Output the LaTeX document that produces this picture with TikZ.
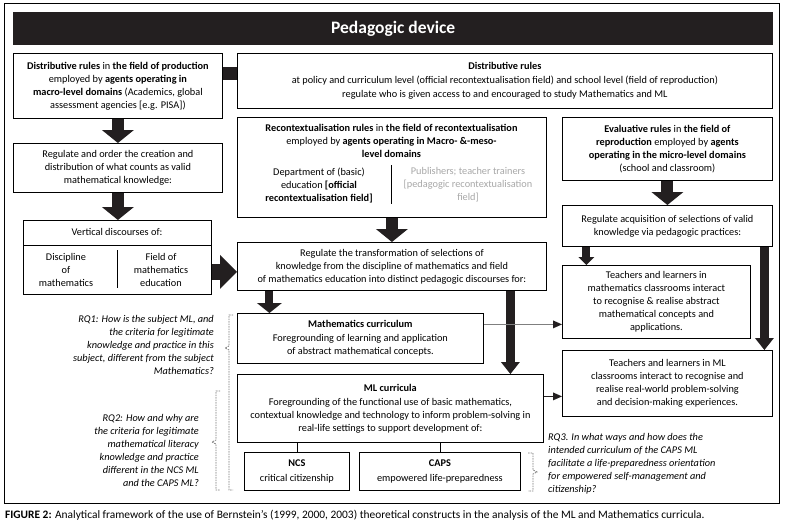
\documentclass[tikz,border=0pt]{standalone}
\usepackage{fontspec}
\setmainfont{Carlito}
\usetikzlibrary{arrows.meta}
\definecolor{ink}{HTML}{231F20}
\definecolor{paletext}{HTML}{A8A8A8}
\definecolor{bracegray}{HTML}{7A7A7A}
\definecolor{linegray}{HTML}{7F7F7F}
\begin{document}
\begin{tikzpicture}[x=1pt,y=-1pt,
  box/.style={draw=black, line width=0.8pt, fill=white, inner sep=0pt, anchor=north west, align=center, font=\fontsize{10.3}{13}\selectfont},
  plain/.style={inner sep=0pt, align=center, font=\fontsize{10.3}{13}\selectfont},
  rq/.style={inner sep=0pt, font=\fontsize{10.3}{13}\selectfont\itshape},
  bigarrow/.style={draw=ink, line width=12pt, -{Triangle[width=32pt,length=13pt,line width=0pt]}},
  rightarrow/.style={draw=ink, line width=16pt, -{Triangle[width=34pt,length=17pt,line width=0pt]}},
  medarrow/.style={draw=ink, line width=8pt, -{Triangle[width=25pt,length=10pt,line width=0pt]}},
  smallarrow/.style={draw=ink, line width=8pt, -{Triangle[width=16pt,length=8pt,line width=0pt]}},
  longarrow/.style={draw=ink, line width=9pt, -{Triangle[width=19pt,length=12pt,line width=0pt]}},
  barlink/.style={draw=ink, line width=13pt},
  thinarrow/.style={draw=linegray, line width=0.9pt, -{Triangle[width=8pt,length=9pt,line width=0pt,fill=ink]}},
  thinlink/.style={draw=black, line width=0.8pt},
  bracepath/.style={draw=bracegray, line width=0.7pt, dash pattern=on 1.5pt off 1pt}
]
\useasboundingbox (0,0) rectangle (789,525);
\fill[white] (0,0) rectangle (789,525);
\draw[line width=1pt] (4,3) rectangle (779,503);

% title
\node[fill=ink, inner sep=0pt, anchor=north west, minimum width=760pt, minimum height=33pt,
      text=white, font=\fontsize{17.5}{19}\selectfont\bfseries] (title) at (13,12) {Pedagogic device};

% boxes
\node[box, minimum width=209pt, minimum height=65pt] (A) at (13,53)
 {\textbf{Distributive rules} in \textbf{the field of production}\\
  employed by \textbf{agents operating in}\\
  \textbf{macro-level domains} (Academics, global\\
  assessment agencies {[}e.g. PISA{]})};

\node[box, minimum width=535pt, minimum height=55pt, font=\fontsize{10.3}{14}\selectfont] (B) at (237,53)
 {\textbf{Distributive rules}\\
  at policy and curriculum level (official recontextualisation field) and school level (field of reproduction)\\
  regulate who is given access to and encouraged to study Mathematics and ML};

\node[box, minimum width=209pt, minimum height=49pt] (C) at (13,143)
 {Regulate and order the creation and\\
  distribution of what counts as valid\\
  mathematical knowledge:};

\node[box, minimum width=188pt, minimum height=74pt] (D) at (23,220) {};
\draw[thinlink] (D.west |- 0,245) -- (D.east |- 0,245);
\node[plain] (Dtitle) at (117,232) {Vertical discourses of:};
\draw[thinlink] (117,250) -- (117,288);
\node[plain] (Dleft) at (66,269.5) {Discipline\\ of\\ mathematics};
\node[plain] (Dright) at (161,269.5) {Field of\\ mathematics\\ education};

\node[box, minimum width=309pt, minimum height=100pt] (E) at (237,117) {};
\node[plain] (Etitle) at (391.5,141)
 {\textbf{Recontextualisation rules} in \textbf{the field of recontextualisation}\\
  employed by \textbf{agents operating in Macro- \&-meso-}\\
  \textbf{level domains}};
\draw[thinlink] (391,165) -- (391,204);
\node[plain] (Eleft) at (319,185)
 {Department of (basic)\\ education \textbf{{[}official}\\ \textbf{recontextualisation field{]}}};
\node[plain, text=paletext] (Eright) at (468,185)
 {Publishers; teacher trainers\\ {[}pedagogic recontextualisation\\ field{]}};

\node[box, minimum width=309pt, minimum height=48pt] (F) at (237,242)
 {Regulate the transformation of selections of\\
  knowledge from the  discipline of mathematics and field\\
  of mathematics education into distinct pedagogic discourses for:};

\node[box, minimum width=210pt, minimum height=63pt] (G) at (562,117)
 {\textbf{Evaluative rules} in \textbf{the field of}\\
  \textbf{reproduction} employed by \textbf{agents}\\
  \textbf{operating in the micro-level domains}\\
  (school and classroom)};

\node[box, minimum width=210pt, minimum height=41pt] (H) at (562,205)
 {Regulate acquisition of selections of valid\\
  knowledge via pedagogic practices:};

\node[box, minimum width=188pt, minimum height=73pt] (I) at (562,265)
 {Teachers and learners in\\
  mathematics classrooms interact\\
  to recognise \& realise abstract\\
  mathematical concepts and\\
  applications.};

\node[box, minimum width=210pt, minimum height=66pt] (J) at (562,350)
 {Teachers and learners in ML\\
  classrooms interact to recognise and\\
  realise real-world problem-solving\\
  and decision-making experiences.};

\node[box, minimum width=246pt, minimum height=50pt] (K) at (237,313)
 {\textbf{Mathematics curriculum}\\[1pt]
  Foregrounding of learning and application\\
  of abstract mathematical concepts.};

\node[box, minimum width=306pt, minimum height=68pt] (L) at (237,374)
 {\textbf{ML curricula}\\[1pt]
  Foregrounding of the functional use of basic mathematics,\\
  contextual knowledge and technology to inform problem-solving in\\
  real-life settings to support development of:};

\node[box, minimum width=105pt, minimum height=38pt, font=\fontsize{10.3}{15}\selectfont] (M) at (244,452)
 {\textbf{NCS}\\ critical citizenship};
\node[box, minimum width=161pt, minimum height=38pt, font=\fontsize{10.3}{15}\selectfont] (N) at (359,452)
 {\textbf{CAPS}\\ empowered life-preparedness};

% connectors
\draw[barlink] ([yshift=12pt]A.east) -- ([yshift=12pt]A.east -| B.west);
\draw[bigarrow] (A.south) -- (C.north);
\draw[bigarrow] (C.south) -- (C.south |- D.north);
\draw[rightarrow] ([yshift=-14.5pt]D.east) -- ([yshift=-14.5pt]D.east -| F.west);
\draw[bigarrow] (E.south) -- (E.south |- F.north);
\draw[bigarrow] (G.south) -- (H.north);
\draw[smallarrow] ([xshift=-81pt]H.south) -- ([xshift=-81pt]H.south |- I.north);
\draw[longarrow] ([xshift=97pt]H.south) -- ([xshift=97pt]H.south |- J.north);
\draw[medarrow] ([xshift=-122.5pt]F.south) -- ([xshift=-122.5pt]F.south |- K.north);
\draw[longarrow] ([xshift=118.5pt]F.south) -- ([xshift=118.5pt]F.south |- L.north);
\draw[thinarrow] ([yshift=14pt]K.east) -- ([yshift=14pt]K.east -| I.west);
\draw[thinarrow, draw=ink] ([yshift=12pt]L.east) -- ([yshift=12pt]L.east -| J.west);
\draw[thinlink] (L.south -| M.north) -- (M.north);
\draw[thinlink] (L.south -| N.north) -- (N.north);

% research questions
\node[rq, align=right, anchor=east] (RQ1) at (214,345)
 {RQ1: How is the subject ML, and\\
  the criteria for legitimate\\
  knowledge and practice in this\\
  subject, different from the subject\\
  Mathematics?};
\node[rq, align=right, anchor=east] (RQ2) at (199,450.5)
 {RQ2: How and why are\\
  the criteria for legitimate\\
  mathematical literacy\\
  knowledge and practice\\
  different in the NCS ML\\
  and the CAPS ML?};
\node[rq, align=left, anchor=west] (RQ3) at (548,463.5)
 {RQ3. In what ways and how does the\\
  intended curriculum of the CAPS ML\\
  facilitate a life-preparedness orientation\\
  for empowered self-management and\\
  citizenship?};

% braces
\draw[bracepath] (233,315) -- (229,315) -- (229,346) -- (225,348) -- (229,350) -- (229,490) -- (233,490);
\draw[bracepath] (220,391) -- (216,391) -- (216,440) -- (212,442) -- (216,444) -- (216,490) -- (220,490);
\draw[bracepath] (528,453) -- (533,453) -- (533,470) -- (537,472) -- (533,474) -- (533,491) -- (528,491);

% caption
\node[inner sep=0pt, anchor=west, font=\fontsize{11.4}{13}\selectfont] (cap) at (5,515)
 {\textbf{FIGURE 2:} Analytical framework of the use of Bernstein’s (1999, 2000, 2003) theoretical constructs in the analysis of the ML and Mathematics curricula.};
\end{tikzpicture}
\end{document}
